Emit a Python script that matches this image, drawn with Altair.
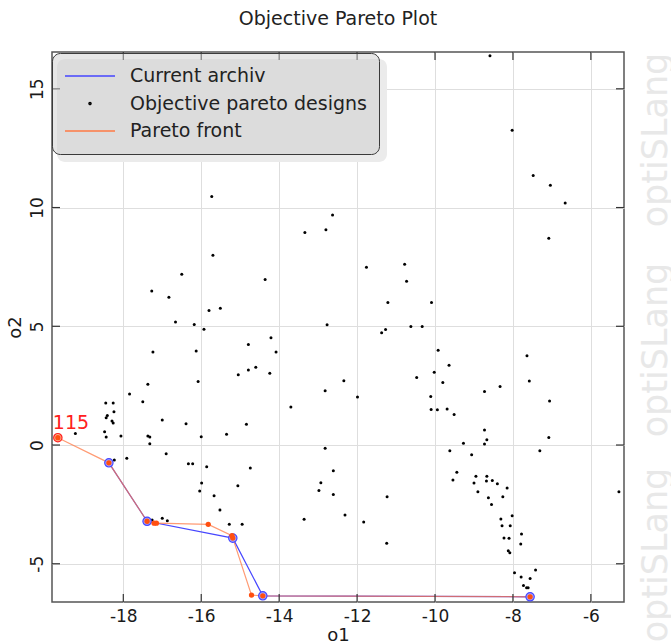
import altair as alt
import pandas as pd

# ---------------- data ----------------
design_o1 = [-8.59, -8.02, -7.48, -7.04, -6.66, -7.08, -10.09,
             -12.63, -12.80, -13.34, -14.36, -11.76, -10.78, -10.73, -11.21, -12.77, -11.37, -11.27, -10.62, -10.33,
             -15.73, -15.70, -16.50, -17.27, -16.83, -15.80, -15.51, -16.66, -16.18, -15.93,
             -14.21, -14.79, -14.08, -17.24, -16.13, -14.60, -14.79, -15.05, -14.24, -16.08, -17.37, -17.84,
             -12.34, -12.82, -11.99, -13.70, -10.47, -12.82, -12.61, -12.93, -12.98, -12.61, -11.23, -12.31, -13.36,
             -15.52, -15.28, -14.95, -11.83, -11.24, -8.55, -8.31, -8.02, -8.28, -8.07, -8.23, -8.10, -7.78, -7.80,
             -8.12, -8.08, -7.96, -7.79, -7.56, -7.42, -7.73, -7.65, -7.61,
             -9.92, -9.64, -10.02, -9.80, -10.11, -10.10, -9.94, -9.69, -9.51, -9.27, -9.62, -9.06, -8.73, -8.33,
             -7.64, -7.58, -7.06, -7.08, -7.31, -8.73, -8.67, -8.73, -9.44, -9.54, -8.95, -9.00, -8.67, -8.68,
             -8.53, -8.40, -8.90, -8.15, -8.63, -8.26,
             -18.45, -18.26, -18.24, -18.41, -18.44, -18.29, -18.26, -18.48, -18.44, -18.06, -19.23, -17.50,
             -17.00, -16.39, -17.37, -17.32, -17.32, -16.00, -15.35, -14.84, -18.23, -17.91, -16.90, -16.33,
             -16.22, -15.86, -14.74, -15.99, -16.04, -15.67, -15.06, -17.26, -17.00, -16.87,
             -5.28]
design_o2 = [16.39, 13.26, 11.35, 10.94, 10.19, 8.71, 6.00,
             9.69, 9.07, 8.95, 6.97, 7.49, 7.61, 6.90, 6.00, 5.06, 4.73, 4.86, 4.99, 4.99,
             10.46, 7.99, 7.19, 6.49, 6.22, 5.66, 5.76, 5.18, 5.08, 4.87,
             4.52, 4.23, 3.92, 3.92, 3.96, 3.27, 3.16, 2.96, 3.02, 2.67, 2.56, 2.15,
             2.71, 2.29, 2.02, 1.60, 2.84, -0.14, -1.08, -1.59, -1.91, -2.08, -2.18, -2.95, -3.13,
             -2.74, -3.34, -3.34, -3.24, -4.14, -2.50, -3.11, -2.98, -3.40, -3.40, -3.92, -3.93, -3.75, -4.17,
             -4.45, -4.54, -5.38, -5.56, -5.62, -5.26, -5.91, -6.01, -6.01,
             3.99, 3.36, 3.06, 2.63, 2.04, 1.50, 1.49, 1.52, 1.29, 0.08, -0.24, -0.41, 2.25, 2.46,
             3.76, 2.70, 1.85, 0.32, -0.24, 0.63, 0.22, 0.04, -1.15, -1.47, -1.31, -1.60, -1.31, -1.52,
             -1.49, -1.63, -1.97, -1.81, -2.22, -2.18,
             1.77, 1.77, 1.40, 1.24, 1.15, 1.01, 0.93, 0.56, 0.34, 0.38, 0.49, 1.82,
             1.05, 0.90, 0.38, 0.34, 0.05, 0.35, 0.45, 0.87, -0.63, -0.56, -0.37, -0.79,
             -0.79, -0.91, -0.97, -1.60, -1.94, -2.14, -1.71, -3.16, -3.08, -3.19,
             -1.97]

front_o1 = [-19.68, -18.37, -17.39, -17.21, -17.15, -15.82, -15.21, -15.19, -14.71, -14.42, -7.56]
front_o2 = [0.31, -0.75, -3.21, -3.29, -3.29, -3.34, -3.82, -3.92, -6.32, -6.35, -6.39]

archive_o1 = [-18.37, -17.39, -15.19, -14.42, -7.56]
archive_o2 = [-0.75, -3.21, -3.92, -6.35, -6.39]

label_o1 = [-19.68]
label_o2 = [0.31]
label_text = ["115"]

x_ticks = [-18, -16, -14, -12, -10, -8, -6]
y_ticks = [-5, 0, 5, 10, 15]
series = ["Current archiv", "Objective pareto designs", "Pareto front"]

# ---------------- styling ----------------
FONT = "DejaVu Sans"
W, H = 572, 550
BLUE = "#4646ff"
ORANGE = "#ff7a45"
ORANGE_DOT = "#ff4f10"
DOT_PATH = "M-0.04,0A0.04,0.04 0 1,0 0.04,0A0.04,0.04 0 1,0 -0.04,0Z"

xs = alt.Scale(domain=[-19.83, -5.15], nice=False, zero=False)
ys = alt.Scale(domain=[-6.61, 16.55], nice=False, zero=False)

designs = pd.DataFrame({"o1": design_o1, "o2": design_o2})
front = pd.DataFrame({"o1": front_o1, "o2": front_o2})
archive = pd.DataFrame({"o1": archive_o1, "o2": archive_o2})
labels = pd.DataFrame({"o1": label_o1, "o2": label_o2, "t": label_text})
xt = pd.DataFrame({"o1": x_ticks})
yt = pd.DataFrame({"o2": y_ticks})
one = pd.DataFrame({"w": [0]})

x_axis = alt.Axis(values=x_ticks, title="o1", labelPadding=6, titlePadding=2,
                  labelExpr="toString(datum.value)")
y_axis = alt.Axis(values=y_ticks, title="o2", labelAngle=270, labelPadding=6, titlePadding=4,
                  labelExpr="toString(datum.value)")
X = alt.X("o1:Q", scale=xs, axis=x_axis)
Y = alt.Y("o2:Q", scale=ys, axis=y_axis)

dots = alt.Chart(designs).mark_circle(size=9, color="black", opacity=1).encode(x=X, y=Y)

arch_line = alt.Chart(archive).mark_line(color=BLUE, strokeWidth=1.2).encode(x=X, y=Y)
front_line = alt.Chart(front).mark_line(color=ORANGE, strokeWidth=1.2, opacity=0.75).encode(x=X, y=Y)

arch_rings = alt.Chart(archive).mark_circle(size=70, fill="#a9a9ff", stroke=BLUE, strokeWidth=1.2,
                                            opacity=1).encode(x=X, y=Y)
label_ring = alt.Chart(labels).mark_circle(size=70, fill="#ffb08a", stroke="#ff2020", strokeWidth=1.2,
                                           opacity=1).encode(x=X, y=Y)
front_dots = alt.Chart(front).mark_circle(size=28, color=ORANGE_DOT, opacity=1).encode(x=X, y=Y)

label_txt = alt.Chart(labels).mark_text(align="left", baseline="alphabetic", dx=-5, dy=-9, fontSize=19,
                                        font=FONT, color="#ff2020").encode(x=X, y=Y, text="t:N")

tick_style = dict(color="#333333", strokeWidth=1.2)
tick_b = alt.Chart(xt).mark_rule(**tick_style).encode(x=X, y=alt.value(H - 8), y2=alt.value(H))
tick_t = alt.Chart(xt).mark_rule(**tick_style).encode(x=X, y=alt.value(0), y2=alt.value(8))
tick_l = alt.Chart(yt).mark_rule(**tick_style).encode(y=Y, x=alt.value(0), x2=alt.value(8))
tick_r = alt.Chart(yt).mark_rule(**tick_style).encode(y=Y, x=alt.value(W - 8), x2=alt.value(W))

# legend drop shadow (decoration)
shadow = alt.Chart(one).mark_rect(color="#ebebeb", cornerRadius=8).encode(
    x=alt.value(5), x2=alt.value(335), y=alt.value(7), y2=alt.value(110))

# watermark (decoration outside the plot)
marks = []
for yc in [555, 350, 140]:
    marks.append(
        alt.Chart(one).mark_text(text="optiSLang", angle=270, fontSize=35, font=FONT, color="#e8e8e8",
                                 align="center", baseline="alphabetic")
        .encode(x=alt.value(615), y=alt.value(yc - 52))
    )

leg = alt.Legend(orient="none", legendX=0, legendY=1, title=None, fillColor="rgba(205,205,205,0.5)",
                 strokeColor="#3a3a3a", cornerRadius=8, padding=12, symbolSize=2500,
                 symbolStrokeWidth=1.5, labelFontSize=19, labelFont=FONT, labelColor="#222222",
                 labelOffset=14, clipHeight=22, rowPadding=5.5, symbolOpacity=1, labelLimit=400)
legend_layer = alt.Chart(pd.DataFrame({"series": series})).mark_point(
    filled=False, opacity=0, strokeWidth=1.5).encode(
    color=alt.Color("series:N", scale=alt.Scale(domain=series, range=[BLUE, "black", ORANGE]), legend=leg),
    shape=alt.Shape("series:N", scale=alt.Scale(domain=series, range=["stroke", DOT_PATH, "stroke"]),
                    legend=leg),
)

chart = alt.layer(
    shadow, dots, arch_line, front_line, arch_rings, label_ring, front_dots, label_txt,
    tick_b, tick_t, tick_l, tick_r, *marks, legend_layer
).properties(
    width=W, height=H,
    autosize=alt.AutoSizeParams(type="none"),
    padding={"left": 52, "top": 52, "right": 47, "bottom": 42},
    title=alt.TitleParams("Objective Pareto Plot", fontSize=19, font=FONT, fontWeight="normal",
                          color="#222222", offset=22, anchor="middle"),
).configure_view(
    stroke="#555555", strokeWidth=1.5
).configure_axis(
    labelFont=FONT, titleFont=FONT, labelFontSize=17, titleFontSize=18, titleFontWeight="normal",
    labelColor="#1a1a1a", titleColor="#1a1a1a", gridColor="#dedede", gridWidth=1,
    domain=False, ticks=False, tickSize=0
)

chart.save("out.html", embed_options={"renderer": "svg", "actions": False})
